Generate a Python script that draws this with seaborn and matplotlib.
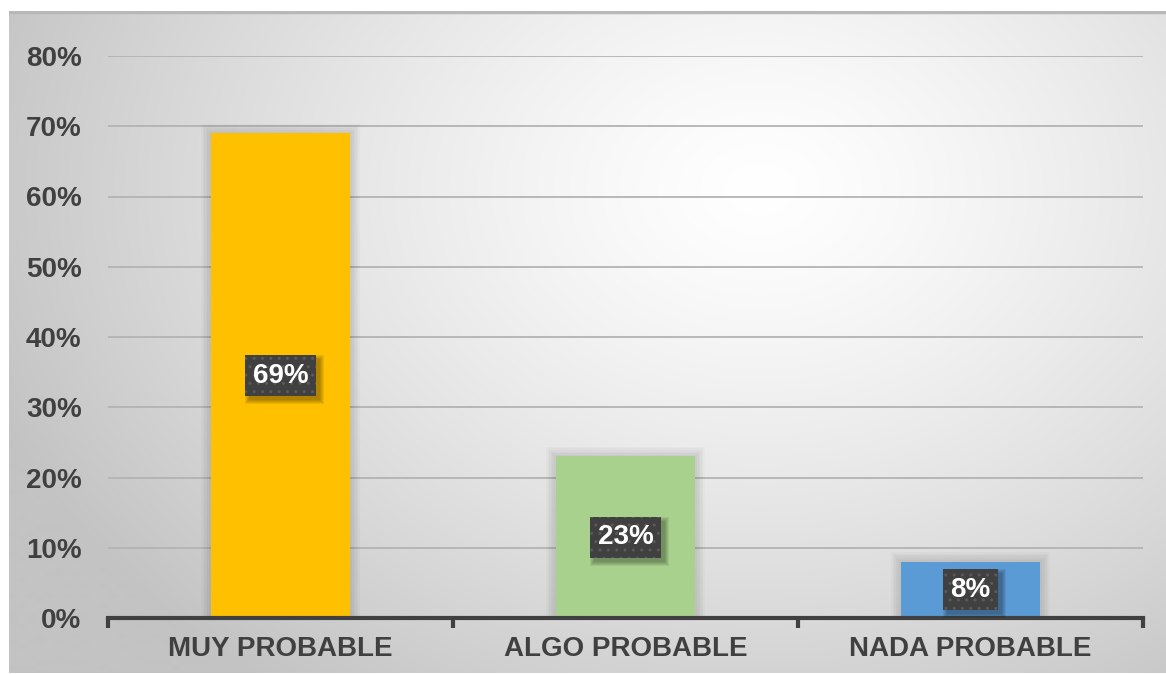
import numpy as np
import pandas as pd
import matplotlib
matplotlib.use("Agg")
import matplotlib.pyplot as plt
from matplotlib.patches import Rectangle
from matplotlib.transforms import IdentityTransform
import seaborn as sns

categories = ["MUY PROBABLE", "ALGO PROBABLE", "NADA PROBABLE"]
values = [0.69, 0.23, 0.08]
bar_colors = ["#FFC000", "#A9D18E", "#5B9BD5"]
y_ticks = [0.0, 0.1, 0.2, 0.3, 0.4, 0.5, 0.6, 0.7, 0.8]

sns.set_theme(style="white")
plt.rcParams["font.family"] = ["Liberation Sans", "DejaVu Sans"]

W, H = 1166, 674
fig = plt.figure(figsize=(W / 100, H / 100), dpi=100)
fig.patch.set_facecolor("white")

# Panel with a soft radial light-to-grey fill
px0, py0 = 9, 11
bg = fig.add_axes([px0 / W, 0, 1 - px0 / W, (H - py0) / H])
bg.set_axis_off()
yy, xx = np.mgrid[py0:H, px0:W].astype(float)
r = np.sqrt(((xx - 760) / 820) ** 2 + ((yy - 190) / 620) ** 2)
shade = 255 - 60 * np.clip(r, 0, 1) ** 1.3
img = np.dstack([shade, shade, shade]) / 255.0
bg.imshow(img, aspect="auto", interpolation="bilinear")
bg.plot([0, W], [0.5, 0.5], color="#b8b8b8", lw=2.5)
bg.set_xlim(0, W - px0)
bg.set_ylim(H - py0, 0)

# Main chart area
left, right, top, bottom = 108, 1143, 56, 618
ax = fig.add_axes([left / W, 1 - bottom / H, (right - left) / W, (bottom - top) / H])
ax.patch.set_alpha(0)

df = pd.DataFrame({"cat": categories, "val": values})
sns.barplot(data=df, x="cat", y="val", hue="cat", palette=bar_colors,
            width=0.405, legend=False, ax=ax, zorder=3, saturation=1,
            linewidth=0, edgecolor="none")
bars = list(ax.patches)

ax.set_xlim(-0.5, 2.5)
ax.set_ylim(0, 0.8)
ax.set_yticks(y_ticks)
ax.set_yticklabels([f"{int(round(t * 100))}%" for t in y_ticks])
ax.yaxis.grid(True, color="#b3b3b3", lw=1.3, zorder=0)
ax.set_axisbelow(True)
ax.set_xlabel("")
ax.set_ylabel("")

for s in ["left", "right", "top"]:
    ax.spines[s].set_visible(False)
ax.spines["bottom"].set_color("#404040")
ax.spines["bottom"].set_linewidth(3)
ax.spines["bottom"].set_zorder(5)

ax.set_xticks([-0.5, 0.5, 1.5, 2.5], minor=True)
ax.tick_params(axis="x", which="minor", bottom=True, length=7, width=3,
               color="#404040", direction="out")
ax.tick_params(axis="x", which="major", bottom=True, length=0, pad=13,
               labelsize=20, labelcolor="#404040")
ax.tick_params(axis="y", length=0, pad=19, labelsize=20, labelcolor="#404040")
for lab in ax.get_xticklabels() + ax.get_yticklabels():
    lab.set_fontweight("bold")

# Value labels in dark dotted boxes
labels = []
for i, v in enumerate(values):
    t = ax.text(i, v / 2, f"{int(round(v * 100))}%", ha="center", va="center",
                fontsize=20, fontweight="bold", color="white", zorder=8,
                bbox=dict(boxstyle="square,pad=0.27", facecolor="#404040",
                          edgecolor="#5a5a5a", hatch="..", lw=0))
    labels.append(t)

fig.canvas.draw()
renderer = fig.canvas.get_renderer()

# Soft halo around each bar
for p in bars:
    bb = p.get_window_extent(renderer)
    for k in range(6):
        g = 1.6 * (k + 1)
        ax.add_artist(Rectangle((bb.x0 - g, bb.y0), bb.width + 2 * g, bb.height + g,
                                transform=IdentityTransform(), facecolor="black",
                                alpha=0.018, lw=0, zorder=2.5))

# Soft drop shadow beneath each value box
for t in labels:
    bb = t.get_bbox_patch().get_window_extent(renderer)
    for k in range(5):
        g = 1.0 * k
        ax.add_artist(Rectangle((bb.x0 + 4 - g, bb.y0 - 4 - g), bb.width + 2 * g,
                                bb.height + 2 * g, transform=IdentityTransform(),
                                facecolor="black", alpha=0.07, lw=0, zorder=7))

fig.savefig("out.png", dpi=100)
